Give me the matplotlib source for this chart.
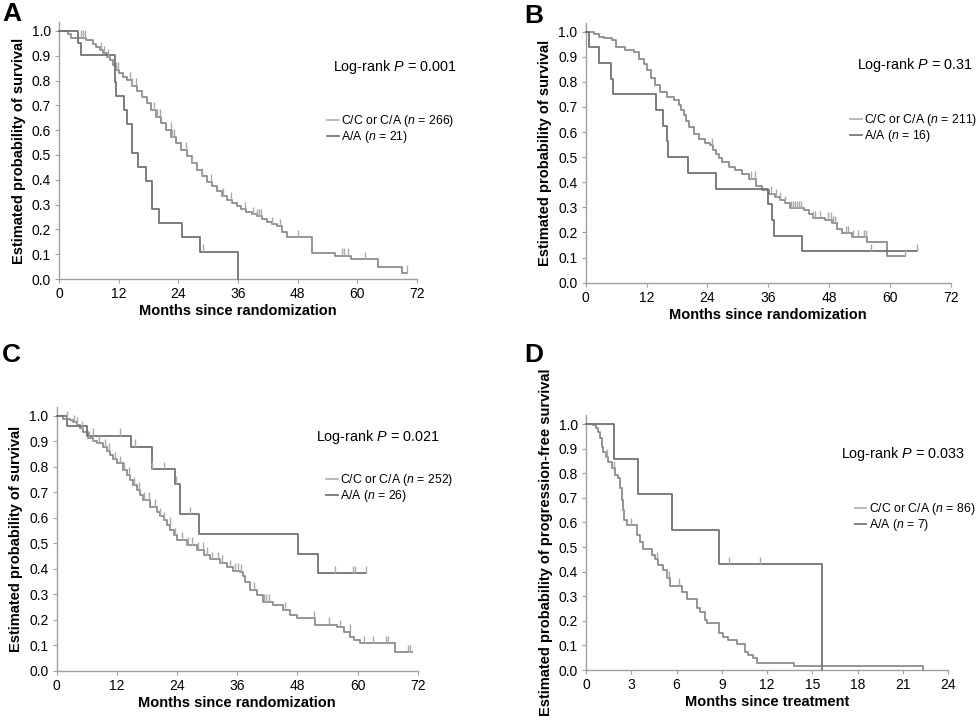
import numpy as np
import matplotlib
matplotlib.use("Agg")
import matplotlib.pyplot as plt
from matplotlib.lines import Line2D

plt.rcParams['font.family'] = ['Liberation Sans', 'DejaVu Sans']
plt.rcParams['mathtext.fontset'] = 'custom'
plt.rcParams['mathtext.rm'] = 'Liberation Sans'
plt.rcParams['mathtext.it'] = 'Liberation Sans:italic'

# ---- panel A : overall survival ----
a_cc_t = [0, 1.8, 2.5, 5.5, 6.8, 7.5, 8.2, 8.9, 9.6, 10.2, 10.8, 11.2, 12.0, 12.8, 13.6, 14.6,
          15.6, 16.6, 17.6, 18.6, 19.6, 20.6, 21.6, 22.6, 23.6, 24.6, 25.7, 26.7, 27.7, 28.7,
          29.7, 30.7, 31.7, 32.7, 33.7, 34.7, 35.7, 36.7, 37.7, 38.8, 39.8, 40.8, 41.8, 42.8,
          43.8, 44.8, 45.8, 50.8, 55.5, 58.8, 64.1, 69.0, 70.0]
a_cc_s = [1.0, 0.987, 0.973, 0.964, 0.946, 0.937, 0.924, 0.91, 0.897, 0.883, 0.863, 0.843, 0.83,
          0.816, 0.803, 0.78, 0.756, 0.733, 0.709, 0.682, 0.655, 0.628, 0.601, 0.574, 0.548,
          0.521, 0.494, 0.467, 0.44, 0.416, 0.393, 0.373, 0.353, 0.336, 0.319, 0.306, 0.293,
          0.282, 0.272, 0.262, 0.252, 0.24, 0.228, 0.22, 0.212, 0.19, 0.169, 0.106, 0.093,
          0.079, 0.05, 0.026, 0.026]
a_cc_cens = [4.5, 4.8, 5.2, 8.5, 9.0, 9.8, 11.5, 11.8, 14.2, 14.6, 15.5, 16.6, 19.2, 19.8, 20.3,
             22.5, 22.8, 23.1, 25.5, 26.8, 28.8, 30.5, 33.0, 34.5, 37.5, 39.0, 39.8, 40.2, 40.7,
             42.9, 44.5, 48.1, 56.9, 57.3, 58.1, 61.6, 70.0]
a_aa_t = [0, 3.9, 4.4, 11.3, 11.5, 13.1, 13.6, 14.75, 15.8, 17.4, 18.8, 20.2, 24.7, 28.4, 35.95]
a_aa_s = [1.0, 0.952, 0.905, 0.796, 0.738, 0.681, 0.624, 0.509, 0.452, 0.397, 0.282, 0.226,
          0.168, 0.11, 0.0]
a_aa_cens = [28.9]

# ---- panel B ----
b_cc_t = [0, 1.6, 2.6, 3.6, 5.2, 5.9, 7.8, 9.5, 10.5, 11.4, 12.1, 12.8, 13.7, 14.7, 16.0, 17.4,
          18.3, 18.8, 19.3, 19.8, 20.3, 21.3, 22.3, 23.6, 24.6, 25.1, 25.6, 26.2, 26.9, 28.2,
          29.5, 30.8, 32.2, 33.5, 34.8, 36.1, 37.3, 38.3, 39.3, 40.3, 43.0, 44.0, 44.9, 47.2,
          48.5, 49.5, 50.5, 52.5, 55.4, 59.5, 63.0]
b_cc_s = [1.0, 0.99, 0.98, 0.973, 0.966, 0.94, 0.927, 0.92, 0.893, 0.873, 0.847, 0.814, 0.787,
          0.76, 0.74, 0.727, 0.707, 0.687, 0.667, 0.643, 0.62, 0.594, 0.574, 0.558, 0.547, 0.53,
          0.514, 0.497, 0.48, 0.461, 0.447, 0.434, 0.414, 0.385, 0.368, 0.355, 0.343, 0.33,
          0.316, 0.296, 0.29, 0.272, 0.256, 0.25, 0.237, 0.215, 0.197, 0.181, 0.163, 0.106, 0.106]
b_cc_cens = [24.9, 32.7, 33.4, 36.6, 37.5, 38.4, 39.4, 40.4, 40.9, 41.3, 41.7, 42.1, 42.5, 44.9,
             45.3, 46.3, 47.8, 48.3, 48.7, 49.1, 51.3, 51.8, 52.8, 53.8, 54.8, 55.3, 63.0]
b_aa_t = [0, 0.7, 2.6, 5.05, 5.4, 13.9, 15.25, 16.0, 16.2, 20.1, 25.6, 36.0, 36.7, 37.1, 42.6, 65.3]
b_aa_s = [1.0, 0.938, 0.875, 0.813, 0.75, 0.688, 0.625, 0.563, 0.5, 0.438, 0.375, 0.313, 0.25,
          0.188, 0.125, 0.125]
b_aa_cens = [56.3, 65.3]

# ---- panel C ----
c_cc_t = [0, 1.3, 2.7, 3.3, 4.0, 4.7, 5.3, 6.3, 7.2, 8.0, 9.3, 10.0, 10.6, 11.3, 12.0, 13.3, 14.0,
          14.6, 15.3, 16.0, 16.7, 17.3, 18.6, 19.9, 20.6, 21.3, 22.0, 22.6, 23.3, 23.9, 25.9,
          27.9, 29.3, 30.6, 32.6, 33.9, 35.2, 36.6, 37.1, 37.6, 38.6, 39.9, 41.2, 43.2, 45.2,
          46.5, 47.9, 51.5, 55.9, 57.2, 58.5, 59.2, 60.5, 67.4, 70.8]
c_cc_s = [1.0, 0.99, 0.984, 0.975, 0.965, 0.952, 0.938, 0.912, 0.902, 0.893, 0.88, 0.863, 0.847,
          0.83, 0.814, 0.788, 0.768, 0.749, 0.729, 0.709, 0.69, 0.67, 0.644, 0.624, 0.608, 0.592,
          0.572, 0.552, 0.532, 0.513, 0.493, 0.474, 0.454, 0.437, 0.424, 0.406, 0.393, 0.389,
          0.37, 0.349, 0.317, 0.297, 0.271, 0.258, 0.238, 0.219, 0.205, 0.179, 0.17, 0.153,
          0.134, 0.12, 0.107, 0.072, 0.072]
c_cc_cens = [2.0, 3.5, 4.1, 5.0, 6.5, 7.3, 8.5, 9.6, 10.5, 11.7, 12.6, 13.5, 14.4, 15.4, 16.4,
             17.5, 18.3, 19.5, 20.6, 21.4, 22.5, 23.5, 25.0, 26.1, 27.0, 28.1, 29.2, 30.0, 31.0,
             32.1, 33.0, 34.5, 35.6, 36.2, 36.7, 39.3, 41.3, 41.8, 42.3, 45.5, 51.4, 54.3, 56.5,
             58.4, 61.2, 63.0, 65.6, 66.0, 70.0, 70.4]
c_aa_t = [0, 2.05, 6.0, 14.8, 19.0, 23.65, 24.5, 28.45, 48.1, 52.05, 61.6]
c_aa_s = [1.0, 0.962, 0.923, 0.88, 0.79, 0.733, 0.614, 0.537, 0.457, 0.382, 0.382]
c_aa_cens = [7.2, 12.6, 15.6, 19.0, 21.3, 23.7, 26.6, 55.5, 59.0, 59.5, 61.6]

# ---- panel D : progression-free survival ----
d_cc_t = [0, 0.49, 0.66, 0.82, 0.93, 1.04, 1.15, 1.32, 1.48, 1.70, 1.92, 2.14, 2.25, 2.36, 2.47,
          2.54, 2.69, 3.36, 3.58, 3.75, 4.35, 4.57, 4.79, 5.12, 5.34, 5.56, 6.34, 6.67, 7.33,
          7.55, 7.88, 7.99, 8.83, 9.1, 9.43, 9.98, 10.53, 10.75, 11.08, 11.3, 13.78, 22.35]
d_cc_s = [1.0, 0.996, 0.982, 0.969, 0.942, 0.908, 0.888, 0.867, 0.847, 0.82, 0.793, 0.779, 0.738,
          0.691, 0.65, 0.61, 0.59, 0.549, 0.522, 0.491, 0.467, 0.45, 0.427, 0.407, 0.373, 0.343,
          0.318, 0.288, 0.251, 0.237, 0.203, 0.19, 0.149, 0.136, 0.122, 0.106, 0.075, 0.061,
          0.047, 0.03, 0.016, 0.0]
d_cc_cens = [1.4, 1.85, 2.95, 4.7, 5.35, 5.5, 6.15]
d_aa_t = [0, 1.85, 3.42, 5.67, 8.79, 15.65]
d_aa_s = [1.0, 0.857, 0.714, 0.571, 0.429, 0.0]
d_aa_cens = [9.5, 11.5]

panels = [
    dict(letter='A', rect=[0.0602, 0.6157, 0.3653, 0.3536], xmax=72, xstep=12,
         xlabel='Months since randomization', ylabel='Estimated probability of survival',
         cc=(a_cc_t, a_cc_s, a_cc_cens), aa=(a_aa_t, a_aa_s, a_aa_cens),
         n=(266, 21), p='0.001', ptxt=(55.1, 0.855), leg=(0.749, 0.645)),
    dict(letter='B', rect=[0.5977, 0.6106, 0.3724, 0.3579], xmax=72, xstep=12,
         xlabel='Months since randomization', ylabel='Estimated probability of survival',
         cc=(b_cc_t, b_cc_s, b_cc_cens), aa=(b_aa_t, b_aa_s, b_aa_cens),
         n=(211, 16), p='0.31', ptxt=(53.5, 0.867), leg=(0.724, 0.657)),
    dict(letter='C', rect=[0.0579, 0.0762, 0.3684, 0.3631], xmax=72, xstep=12,
         xlabel='Months since randomization', ylabel='Estimated probability of survival',
         cc=(c_cc_t, c_cc_s, c_cc_cens), aa=(c_aa_t, c_aa_s, c_aa_cens),
         n=(252, 26), p='0.021', ptxt=(51.7, 0.916), leg=(0.747, 0.753)),
    dict(letter='D', rect=[0.598, 0.0771, 0.3697, 0.3507], xmax=24, xstep=3,
         xlabel='Months since treatment', ylabel='Estimated probability of progression-free survival',
         cc=(d_cc_t, d_cc_s, d_cc_cens), aa=(d_aa_t, d_aa_s, d_aa_cens),
         n=(86, 7), p='0.033', ptxt=(16.9, 0.877), leg=(0.741, 0.663)),
]

cc_col = '#8c8c8c'
aa_col = '#727272'
cens_col = '#a9a9a9'
spine_col = '#a0a0a0'

fig = plt.figure(figsize=(9.8, 7.26), dpi=100)

for p in panels:
    ax = fig.add_axes(p['rect'])
    for (t, s, cens), col in [(p['cc'], cc_col), (p['aa'], aa_col)]:
        t = np.array(t)
        s = np.array(s)
        ax.step(t, s, where='post', color=col, lw=1.3, clip_on=False, zorder=3)
        ct = np.array(cens)
        idx = np.searchsorted(t, ct, side='right') - 1
        cs = s[idx]
        ax.vlines(ct, cs, cs + 0.03, color=cens_col, lw=1.0, zorder=4, clip_on=False)

    ax.set_xlim(0, p['xmax'])
    ax.set_ylim(0, 1.035)
    ax.set_xticks(np.arange(0, p['xmax'] + 1, p['xstep']))
    ax.set_yticks(np.arange(0, 1.01, 0.1))
    ax.set_yticklabels(['%.1f' % v for v in np.arange(0, 1.01, 0.1)])
    for side in ['top', 'right']:
        ax.spines[side].set_visible(False)
    for side in ['left', 'bottom']:
        ax.spines[side].set_color(spine_col)
        ax.spines[side].set_linewidth(1.0)
    ax.tick_params(direction='out', length=3, width=0.8, color=spine_col,
                   labelsize=10, pad=3)
    ax.set_xlabel(p['xlabel'], fontsize=10.5, fontweight='bold', labelpad=2)
    ax.set_ylabel(p['ylabel'], fontsize=10.5, fontweight='bold', labelpad=4)

    ax.text(p['ptxt'][0], p['ptxt'][1], r'Log-rank $\it{P}$ = ' + p['p'],
            fontsize=10.4, ha='left', va='center', clip_on=False)

    handles = [Line2D([], [], color='#b4b4b4', lw=1.3), Line2D([], [], color='#777777', lw=1.3)]
    labels = [r'C/C or C/A ($\it{n}$ = %d)' % p['n'][0], r'A/A ($\it{n}$ = %d)' % p['n'][1]]
    ax.legend(handles, labels, loc='upper left', bbox_to_anchor=p['leg'], frameon=False,
              fontsize=8.8, handlelength=0.95, handletextpad=0.2, labelspacing=0.0,
              borderpad=0, borderaxespad=0)

fig.text(0.002, 0.997, 'A', fontsize=19, fontweight='bold', ha='left', va='top')
fig.text(0.535, 0.995, 'B', fontsize=19, fontweight='bold', ha='left', va='top')
fig.text(0.002, 0.528, 'C', fontsize=19, fontweight='bold', ha='left', va='top')
fig.text(0.535, 0.528, 'D', fontsize=19, fontweight='bold', ha='left', va='top')

fig.savefig('out.png', dpi=100)
